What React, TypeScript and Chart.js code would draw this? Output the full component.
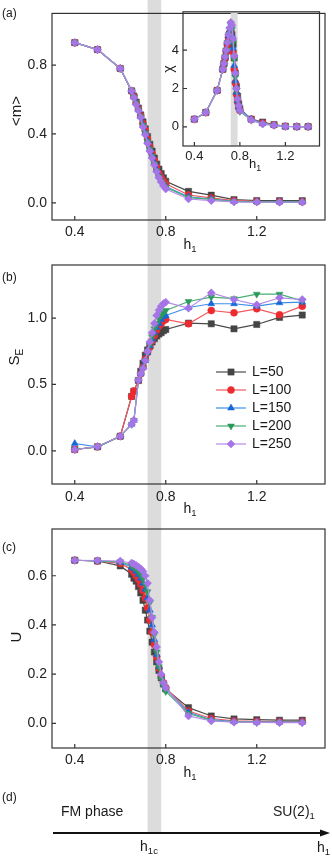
import React, { useEffect, useRef } from 'react';
import { Chart, registerables } from 'chart.js';
import { drawPoint } from 'chart.js/helpers';

Chart.register(...registerables);

// ---------------- DATA ----------------
const H = [0.4, 0.5, 0.6, 0.65, 0.66, 0.67, 0.68, 0.69, 0.70, 0.71, 0.72, 0.73, 0.74, 0.75, 0.76, 0.77, 0.78, 0.79, 0.80, 0.9, 1.0, 1.1, 1.2, 1.3, 1.4];
const SERIES_LABELS = ['L=50', 'L=100', 'L=150', 'L=200', 'L=250'];

// (a) magnetisation <m>
const M_L50 = [0.93, 0.89, 0.78, 0.65, 0.62, 0.585, 0.55, 0.51, 0.47, 0.43, 0.385, 0.34, 0.30, 0.26, 0.225, 0.195, 0.17, 0.145, 0.125, 0.066, 0.044, 0.018, 0.013, 0.012, 0.012];
const M_L100 = [0.93, 0.89, 0.78, 0.65, 0.62, 0.58, 0.545, 0.505, 0.46, 0.42, 0.37, 0.325, 0.285, 0.245, 0.205, 0.17, 0.145, 0.125, 0.11, 0.045, 0.028, 0.012, 0.008, 0.007, 0.006];
const M_L150 = [0.93, 0.89, 0.78, 0.65, 0.615, 0.58, 0.54, 0.50, 0.455, 0.41, 0.36, 0.315, 0.275, 0.235, 0.195, 0.16, 0.13, 0.11, 0.095, 0.035, 0.022, 0.008, 0.006, 0.005, 0.005];
const M_L200 = [0.93, 0.89, 0.78, 0.65, 0.615, 0.58, 0.54, 0.50, 0.45, 0.405, 0.355, 0.31, 0.27, 0.225, 0.185, 0.15, 0.125, 0.105, 0.09, 0.03, 0.02, 0.007, 0.005, 0.004, 0.004];
const M_L250 = [0.93, 0.89, 0.78, 0.65, 0.61, 0.57, 0.535, 0.495, 0.44, 0.395, 0.345, 0.30, 0.26, 0.22, 0.18, 0.145, 0.12, 0.097, 0.08, 0.022, 0.012, 0.005, 0.004, 0.003, 0.003];

// (a, inset) susceptibility chi
const CHI_L50 = [0.4, 0.75, 1.9, 3.0, 3.3, 3.6, 3.95, 4.3, 4.6, 4.85, 5.0, 4.8, 4.3, 3.6, 2.8, 2.1, 1.6, 1.2, 0.95, 0.4, 0.25, 0.12, 0.03, 0.01, 0.01];
const CHI_L100 = [0.4, 0.75, 1.9, 3.0, 3.3, 3.6, 3.95, 4.3, 4.65, 4.9, 4.95, 4.6, 3.9, 3.0, 2.3, 1.7, 1.3, 1.0, 0.85, 0.4, 0.2, 0.1, 0.03, 0.01, 0.01];
const CHI_L150 = [0.4, 0.75, 1.9, 3.0, 3.3, 3.65, 4.0, 4.4, 4.75, 5.0, 5.1, 4.8, 4.1, 3.2, 2.4, 1.8, 1.35, 1.05, 0.9, 0.4, 0.17, 0.09, 0.02, 0.01, 0.01];
const CHI_L200 = [0.4, 0.75, 1.9, 3.0, 3.3, 3.65, 4.0, 4.4, 4.8, 5.1, 5.3, 5.1, 4.4, 3.5, 2.6, 1.9, 1.4, 1.05, 0.8, 0.35, 0.15, 0.08, 0.02, 0.01, 0.01];
const CHI_L250 = [0.4, 0.75, 1.9, 3.0, 3.3, 3.65, 4.0, 4.4, 4.8, 5.15, 5.45, 5.3, 4.6, 3.7, 2.8, 2.0, 1.45, 1.1, 0.85, 0.35, 0.15, 0.08, 0.02, 0.01, 0.01];

// (b) entanglement entropy S_E
const S_L50 = [0.01, 0.03, 0.11, 0.41, 0.45, null, 0.53, 0.60, 0.66, 0.72, 0.76, 0.79, 0.82, 0.845, 0.865, 0.88, 0.89, 0.905, 0.914, 0.962, 0.957, 0.919, 0.952, 1.005, 1.023];
const S_L100 = [0.01, 0.03, 0.11, 0.41, 0.45, null, 0.53, 0.58, 0.63, 0.69, 0.74, 0.78, 0.83, 0.87, 0.91, 0.94, 0.96, 0.98, 0.99, 0.957, 1.057, 1.04, 1.07, 1.025, 1.09];
const S_L150 = [0.055, 0.03, 0.11, 0.20, 0.23, null, 0.53, 0.58, 0.63, 0.68, 0.74, 0.79, 0.84, 0.89, 0.93, 0.96, 0.99, 1.01, 1.02, 1.08, 1.108, 1.108, 1.09, 1.115, 1.12];
const S_L200 = [0.01, 0.03, 0.11, 0.20, 0.23, null, 0.53, 0.58, 0.62, 0.68, 0.74, 0.80, 0.86, 0.92, 0.96, 1.0, 1.02, 1.04, 1.057, 1.125, 1.158, 1.146, 1.18, 1.18, 1.13];
const S_L250 = [0.008, 0.033, 0.11, 0.20, 0.23, null, 0.534, 0.58, 0.62, 0.68, 0.75, 0.82, 0.89, 0.96, 1.02, 1.06, 1.09, 1.11, 1.12, 1.075, 1.19, 1.14, 1.10, 1.153, 1.14];

// (c) Binder cumulant U
const U_L50 = [0.663, 0.66, 0.64, 0.606, 0.59, 0.578, 0.556, 0.53, 0.50, 0.46, 0.42, 0.375, 0.33, 0.29, 0.25, 0.215, 0.185, 0.16, 0.14, 0.064, 0.03, 0.018, 0.015, 0.013, 0.013];
const U_L100 = [0.663, 0.66, 0.65, 0.625, 0.615, 0.60, 0.585, 0.565, 0.54, 0.51, 0.47, 0.42, 0.37, 0.32, 0.27, 0.225, 0.19, 0.165, 0.145, 0.05, 0.02, 0.01, 0.008, 0.007, 0.007];
const U_L150 = [0.663, 0.66, 0.655, 0.635, 0.628, 0.618, 0.605, 0.59, 0.57, 0.545, 0.51, 0.46, 0.40, 0.34, 0.28, 0.23, 0.19, 0.16, 0.14, 0.045, 0.015, 0.007, 0.005, 0.005, 0.005];
const U_L200 = [0.663, 0.66, 0.657, 0.642, 0.636, 0.628, 0.618, 0.605, 0.588, 0.565, 0.535, 0.49, 0.43, 0.36, 0.29, 0.23, 0.18, 0.15, 0.13, 0.04, 0.012, 0.006, 0.004, 0.004, 0.004];
const U_L250 = [0.663, 0.662, 0.66, 0.652, 0.648, 0.642, 0.636, 0.628, 0.618, 0.60, 0.57, 0.50, 0.43, 0.37, 0.31, 0.25, 0.20, 0.165, 0.145, 0.03, 0.01, 0.005, 0.004, 0.003, 0.003];

const X_RANGE = [0.3, 1.5];
const X_TICKS = [0.4, 0.8, 1.2];
const M_TICKS = [0, 0.4, 0.8];
const CHI_TICKS = [0, 2, 4];
const S_TICKS = [0, 0.5, 1.0];
const U_TICKS = [0, 0.2, 0.4, 0.6];
const M_RANGE = [-0.1, 1.1];
const CHI_RANGE = [-1, 6];
const S_RANGE = [-0.25, 1.4];
const U_RANGE = [-0.1, 0.79];
const BAND = [0.72, 0.78]; // h1c region

// ---------------- STYLES ----------------
const FONT = "'Liberation Sans', Arial, Helvetica, sans-serif";
const STYLES = [
  { line: '#4a4a4a', mark: '#454545', shape: 'rect', r: 4.4, rot: 0 },
  { line: '#f05a5e', mark: '#ec2b30', shape: 'circle', r: 3.5, rot: 0 },
  { line: '#3f8fe8', mark: '#1766d6', shape: 'triangle', r: 4, rot: 0 },
  { line: '#47b072', mark: '#2a9a5a', shape: 'triangle', r: 4, rot: 180 },
  { line: '#b48ae8', mark: '#a574e6', shape: 'rectRot', r: 4, rot: 0 },
];

function makeDatasets(series: (number | null)[][]) {
  return series.map((vals, i) => {
    const s = STYLES[i];
    return {
      label: SERIES_LABELS[i],
      data: H.map((h, j) => ({ x: h, y: vals[j] })),
      order: series.length - 1 - i,
      borderColor: s.line,
      backgroundColor: s.mark,
      pointBackgroundColor: s.mark,
      pointBorderColor: s.mark,
      pointBorderWidth: 0.5,
      pointStyle: s.shape,
      pointRotation: s.rot,
      pointRadius: s.r,
      borderWidth: 1.2,
      spanGaps: true,
      tension: 0,
    };
  });
}

const bandPlugin = (mode: 'full' | 'area' | number) => ({
  id: 'band',
  beforeDraw(chart: any) {
    const { ctx, chartArea: a, scales } = chart;
    const x = scales.x;
    const x1 = x.getPixelForValue(BAND[0]);
    const x2 = x.getPixelForValue(BAND[1]);
    let top = 0;
    let bottom = chart.height;
    if (mode === 'area') { top = a.top; bottom = a.bottom; }
    else if (typeof mode === 'number') bottom = mode;
    ctx.save();
    ctx.fillStyle = '#dcdcdc';
    ctx.fillRect(x1, top, x2 - x1, bottom - top);
    ctx.restore();
  },
});

const framePlugin = {
  id: 'frame',
  afterDatasetsDraw(chart: any) {
    const { ctx, chartArea: a, scales } = chart;
    ctx.save();
    ctx.strokeStyle = '#333';
    ctx.lineWidth = 1.2;
    ctx.strokeRect(a.left, a.top, a.right - a.left, a.bottom - a.top);
    ctx.beginPath();
    scales.x.ticks.forEach((t: any) => {
      const px = scales.x.getPixelForValue(t.value);
      ctx.moveTo(px, a.bottom);
      ctx.lineTo(px, a.bottom - 4);
    });
    scales.y.ticks.forEach((t: any) => {
      const py = scales.y.getPixelForValue(t.value);
      ctx.moveTo(a.left, py);
      ctx.lineTo(a.left + 4, py);
    });
    ctx.stroke();
    ctx.restore();
  },
};

const legendPlugin = {
  id: 'seriesLegend',
  afterDatasetsDraw(chart: any) {
    const { ctx, chartArea: a } = chart;
    chart.data.datasets.forEach((ds: any, i: number) => {
      const y = a.top + 107 + i * 18;
      const x0 = a.left + 164;
      ctx.save();
      ctx.strokeStyle = ds.borderColor;
      ctx.lineWidth = 1.2;
      ctx.beginPath();
      ctx.moveTo(x0, y);
      ctx.lineTo(x0 + 30, y);
      ctx.stroke();
      ctx.fillStyle = ds.pointBackgroundColor;
      ctx.strokeStyle = ds.pointBorderColor;
      ctx.lineWidth = 0.5;
      drawPoint(ctx, { pointStyle: ds.pointStyle, radius: ds.pointRadius, rotation: ds.pointRotation, borderWidth: 0.5 } as any, x0 + 15, y);
      ctx.fillStyle = '#1a1a1a';
      ctx.font = `14px ${FONT}`;
      ctx.textBaseline = 'middle';
      ctx.textAlign = 'left';
      ctx.fillText(ds.label, x0 + 36, y);
      ctx.restore();
    });
  },
};

type PanelProps = {
  series: (number | null)[][];
  yRange: number[];
  yTicks: number[];
  yFmt: (v: number) => string;
  padTop: number;
  padRight: number;
  yAxisW: number;
  xAxisH: number;
  fontSize: number;
  xPad: number;
  yPad: number;
  band: 'full' | 'area' | number;
  legend?: boolean;
};

function panelConfig(p: PanelProps): any {
  const tickFont = { family: FONT, size: p.fontSize };
  return {
    type: 'line',
    data: { datasets: makeDatasets(p.series) },
    options: {
      responsive: false,
      animation: false,
      devicePixelRatio: 1,
      events: [],
      layout: { padding: { left: 0, right: p.padRight, top: p.padTop, bottom: 0 } },
      plugins: { legend: { display: false }, tooltip: { enabled: false } },
      scales: {
        x: {
          type: 'linear',
          min: X_RANGE[0],
          max: X_RANGE[1],
          grid: { display: false, drawTicks: false },
          border: { display: false },
          afterBuildTicks: (sc: any) => { sc.ticks = X_TICKS.map((v) => ({ value: v })); },
          afterFit: (sc: any) => { sc.height = p.xAxisH; },
          ticks: {
            font: tickFont, color: '#222', padding: p.xPad, maxRotation: 0, autoSkip: false,
            callback: (v: any) => Number(v).toFixed(1),
          },
        },
        y: {
          type: 'linear',
          min: p.yRange[0],
          max: p.yRange[1],
          grid: { display: false, drawTicks: false },
          border: { display: false },
          afterBuildTicks: (sc: any) => { sc.ticks = p.yTicks.map((v) => ({ value: v })); },
          afterFit: (sc: any) => { sc.width = p.yAxisW; },
          ticks: {
            font: tickFont, color: '#222', padding: p.yPad, autoSkip: false,
            callback: (v: any) => p.yFmt(Number(v)),
          },
        },
      },
    },
    plugins: [bandPlugin(p.band), framePlugin, ...(p.legend ? [legendPlugin] : [])],
  };
}

function arrowConfig(): any {
  const arrowY = 53;
  return {
    type: 'line',
    data: { datasets: [] },
    options: {
      responsive: false,
      animation: false,
      devicePixelRatio: 1,
      events: [],
      layout: { padding: { left: 52, right: 7, top: 0, bottom: 0 } },
      plugins: { legend: { display: false }, tooltip: { enabled: false } },
      scales: {
        x: { type: 'linear', min: X_RANGE[0], max: X_RANGE[1], display: false },
        y: { type: 'linear', min: 0, max: 1, display: false },
      },
    },
    plugins: [
      bandPlugin(arrowY),
      {
        id: 'arrow',
        afterDraw(chart: any) {
          const { ctx, chartArea: a } = chart;
          ctx.save();
          ctx.strokeStyle = '#111';
          ctx.fillStyle = '#111';
          ctx.lineWidth = 2;
          ctx.beginPath();
          ctx.moveTo(a.left + 1, arrowY);
          ctx.lineTo(a.right - 2, arrowY);
          ctx.stroke();
          ctx.beginPath();
          ctx.moveTo(a.right + 5, arrowY);
          ctx.lineTo(a.right - 5, arrowY - 3.5);
          ctx.lineTo(a.right - 5, arrowY + 3.5);
          ctx.closePath();
          ctx.fill();
          ctx.restore();
        },
      },
    ],
  };
}

function ChartCanvas({ config, left, top, width, height }: { config: any; left: number; top: number; width: number; height: number }) {
  const ref = useRef<HTMLCanvasElement>(null);
  useEffect(() => {
    if (!ref.current) return;
    const chart = new Chart(ref.current, config);
    return () => chart.destroy();
  }, []);
  return (
    <canvas
      ref={ref}
      width={width}
      height={height}
      style={{ position: 'absolute', left, top, width, height, display: 'block' }}
    />
  );
}

function Txt({ x, y, size = 14, rot = false, left = false, children }: any) {
  return (
    <div
      style={{
        position: 'absolute', left: x, top: y,
        transform: `translate(${left ? '0' : '-50%'}, -50%)${rot ? ' rotate(-90deg)' : ''}`,
        fontSize: size, fontFamily: FONT, lineHeight: 1, whiteSpace: 'nowrap', color: '#1a1a1a',
      }}
    >
      {children}
    </div>
  );
}

const Sub = ({ children }: any) => (
  <span style={{ fontSize: '0.68em', position: 'relative', top: '0.35em' }}>{children}</span>
);

export default function App() {
  const f1 = (v: number) => v.toFixed(1);
  const f0 = (v: number) => v.toFixed(0);
  return (
    <div style={{ position: 'absolute', left: 0, top: 0, width: 332, height: 860, background: '#fff', overflow: 'hidden' }}>
      <ChartCanvas left={0} top={0} width={332} height={250}
        config={panelConfig({ series: [M_L50, M_L100, M_L150, M_L200, M_L250], yRange: M_RANGE, yTicks: M_TICKS, yFmt: f1, padTop: 2, padRight: 7, yAxisW: 52, xAxisH: 30, fontSize: 14, xPad: 4, yPad: 5, band: 'full' })} />
      <ChartCanvas left={150} top={0} width={182} height={175}
        config={panelConfig({ series: [CHI_L50, CHI_L100, CHI_L150, CHI_L200, CHI_L250], yRange: CHI_RANGE, yTicks: CHI_TICKS, yFmt: f0, padTop: 7, padRight: 12.5, yAxisW: 33, xAxisH: 29, fontSize: 13, xPad: 3, yPad: 4, band: 'area' })} />
      <ChartCanvas left={0} top={250} width={332} height={265}
        config={panelConfig({ series: [S_L50, S_L100, S_L150, S_L200, S_L250], yRange: S_RANGE, yTicks: S_TICKS, yFmt: f1, padTop: 15, padRight: 7, yAxisW: 52, xAxisH: 31, fontSize: 14, xPad: 5, yPad: 5, band: 'full', legend: true })} />
      <ChartCanvas left={0} top={515} width={332} height={265}
        config={panelConfig({ series: [U_L50, U_L100, U_L150, U_L200, U_L250], yRange: U_RANGE, yTicks: U_TICKS, yFmt: f1, padTop: 14, padRight: 7, yAxisW: 52, xAxisH: 32, fontSize: 14, xPad: 4, yPad: 5, band: 'full' })} />
      <ChartCanvas left={0} top={780} width={332} height={80} config={arrowConfig()} />

      <Txt x={2} y={13} size={12} left>(a)</Txt>
      <Txt x={2} y={277} size={12} left>(b)</Txt>
      <Txt x={2} y={547} size={12} left>(c)</Txt>
      <Txt x={2} y={797} size={12} left>(d)</Txt>

      <Txt x={15} y={111} size={15} rot>&lt;m&gt;</Txt>
      <Txt x={14} y={357} size={15} rot>S<Sub>E</Sub></Txt>
      <Txt x={15} y={637} size={15} rot>U</Txt>
      <Txt x={168} y={69} size={14} rot>χ</Txt>

      <Txt x={190} y={244} size={14}>h<Sub>1</Sub></Txt>
      <Txt x={190} y={508} size={14}>h<Sub>1</Sub></Txt>
      <Txt x={190} y={772} size={14}>h<Sub>1</Sub></Txt>
      <Txt x={255} y={163} size={13}>h<Sub>1</Sub></Txt>

      <Txt x={61} y={811} size={14} left>FM phase</Txt>
      <Txt x={273} y={811} size={14} left>SU(2)<Sub>1</Sub></Txt>
      <Txt x={149} y={846} size={14}>h<Sub>1c</Sub></Txt>
      <Txt x={317} y={847} size={14} left>h<Sub>1</Sub></Txt>
    </div>
  );
}
